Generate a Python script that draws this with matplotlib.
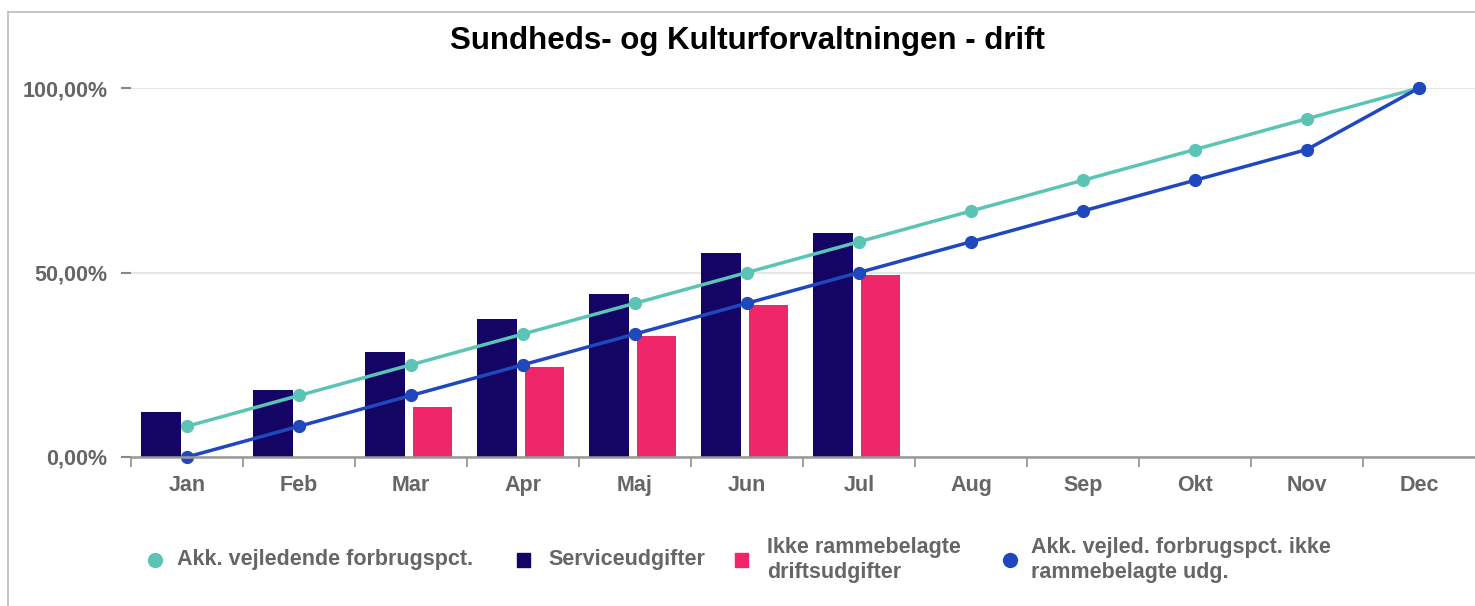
import matplotlib
import matplotlib.pyplot as plt
import numpy as np
from matplotlib.lines import Line2D
from matplotlib.patches import Rectangle

matplotlib.use("Agg")

months = ['Jan', 'Feb', 'Mar', 'Apr', 'Maj', 'Jun', 'Jul', 'Aug', 'Sep', 'Okt', 'Nov', 'Dec']
service = [12.2, 18.2, 28.5, 37.4, 44.2, 55.2, 60.8]
ikke_ramme = [None, None, 13.6, 24.4, 32.8, 41.1, 49.2]
akk_vejl = [8.33, 16.67, 25.0, 33.33, 41.67, 50.0, 58.33, 66.67, 75.0, 83.33, 91.67, 100.0]
akk_ikke = [0.0, 8.33, 16.67, 25.0, 33.33, 41.67, 50.0, 58.33, 66.67, 75.0, 83.33, 100.0]
y_ticks = [0, 50, 100]
y_tick_labels = ['0,00%', '50,00%', '100,00%']

# colours
TEAL = '#5cc4b5'
BLUE = '#1f48bf'
NAVY = '#140565'
PINK = '#ef276a'
GREY = '#666666'
FS = 15.5

W, H = 1475, 606
plt.rcParams['font.family'] = ['Liberation Sans', 'DejaVu Sans']
fig = plt.figure(figsize=(W / 100, H / 100), dpi=100)
ax = fig.add_axes([131 / W, 1 - 457 / H, (W - 131) / W, (457 - 88) / H])

x = np.arange(len(months))
bw = 0.35
ax.bar(x[:len(service)] - 0.232, service, width=bw, color=NAVY, zorder=2)
pink_x = [i + 0.194 for i, v in enumerate(ikke_ramme) if v is not None]
pink_v = [v for v in ikke_ramme if v is not None]
ax.bar(pink_x, pink_v, width=bw, color=PINK, zorder=2)

ax.plot(x, akk_vejl, color=TEAL, lw=2.5, marker='o', ms=8.5, zorder=3, clip_on=False)
ax.plot(x, akk_ikke, color=BLUE, lw=2.5, marker='o', ms=8.5, zorder=4, clip_on=False)

ax.set_xlim(-0.5, 11.5)
ax.set_ylim(0, 100)
ax.set_yticks(y_ticks)
ax.set_yticklabels(y_tick_labels)
ax.set_xticks(x)
ax.set_xticklabels(months)
ax.set_xticks(np.arange(-0.5, 11.5, 1), minor=True)
ax.tick_params(axis='x', which='major', length=0, pad=13, labelsize=FS, labelcolor=GREY)
ax.tick_params(axis='x', which='minor', length=7, width=1.3, color='#999999', direction='out')
ax.tick_params(axis='y', length=7, width=1.5, color='#888888', pad=10, labelsize=FS, labelcolor=GREY)
for lab in ax.get_xticklabels() + ax.get_yticklabels():
    lab.set_fontweight('bold')

ax.grid(axis='y', color='#e6e6e6', lw=1.5, zorder=0)
ax.set_axisbelow(True)
for s in ['top', 'right', 'left']:
    ax.spines[s].set_visible(False)
ax.spines['bottom'].set_color('#999999')
ax.spines['bottom'].set_linewidth(1.8)
ax.spines['bottom'].set_zorder(5)

fig.text(747 / W, 1 - 41 / H, 'Sundheds- og Kulturforvaltningen - drift', ha='center', va='center',
         fontsize=22.5, fontweight='bold', color='black')

# outer border (left and top only)
fig.add_artist(Line2D([8 / W, 8 / W], [0, 1 - 12 / H], color='#bbbbbb', lw=1.2))
fig.add_artist(Line2D([8 / W, 1], [1 - 12 / H, 1 - 12 / H], color='#bbbbbb', lw=1.2))

# legend
ly = 1 - 560 / H
fig.add_artist(Line2D([155 / W], [ly], marker='o', ms=10, color=TEAL, lw=0))
fig.text(177 / W, ly, 'Akk. vejledende forbrugspct.', va='center', fontsize=FS, fontweight='bold', color=GREY)
fig.add_artist(Rectangle((517 / W, 1 - 567 / H), 13 / W, 14 / H, color=NAVY))
fig.text(548 / W, ly, 'Serviceudgifter', va='center', fontsize=FS, fontweight='bold', color=GREY)
fig.add_artist(Rectangle((735 / W, 1 - 567 / H), 13 / W, 14 / H, color=PINK))
fig.text(767 / W, ly, 'Ikke rammebelagte\ndriftsudgifter', va='center', fontsize=FS, fontweight='bold',
         color=GREY, linespacing=1.2)
fig.add_artist(Line2D([1010 / W], [ly], marker='o', ms=10, color=BLUE, lw=0))
fig.text(1031 / W, ly, 'Akk. vejled. forbrugspct. ikke\nrammebelagte udg.', va='center', fontsize=FS,
         fontweight='bold', color=GREY, linespacing=1.2)

fig.savefig('out.png', dpi=100)
